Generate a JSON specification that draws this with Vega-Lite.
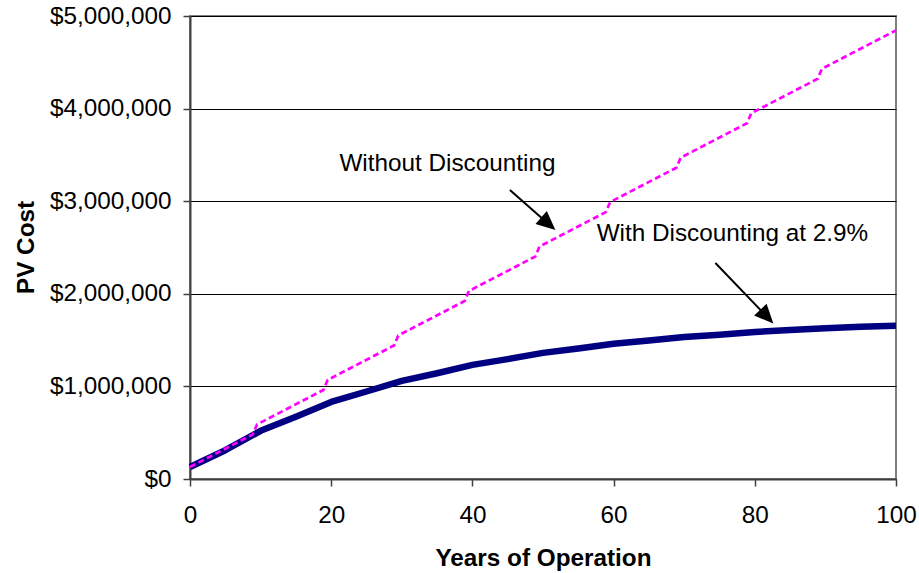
{
  "$schema": "https://vega.github.io/schema/vega-lite/v6.json",
  "width": 706,
  "height": 463,
  "autosize": {"type": "none"},
  "padding": {"left": 190, "top": 16, "right": 23, "bottom": 94},
  "background": "white",
  "config": {
    "view": {"stroke": "#808080", "strokeWidth": 2},
    "font": "Liberation Sans"
  },
  "datasets": {
    "lines": [
      {"series": "pv", "year": 0, "cost": 130000},
      {"series": "pv", "year": 5, "cost": 311000},
      {"series": "pv", "year": 10, "cost": 520000},
      {"series": "pv", "year": 15, "cost": 672000},
      {"series": "pv", "year": 20, "cost": 832000},
      {"series": "pv", "year": 25, "cost": 945000},
      {"series": "pv", "year": 30, "cost": 1060000},
      {"series": "pv", "year": 35, "cost": 1142000},
      {"series": "pv", "year": 40, "cost": 1232000},
      {"series": "pv", "year": 45, "cost": 1295000},
      {"series": "pv", "year": 50, "cost": 1362000},
      {"series": "pv", "year": 55, "cost": 1409000},
      {"series": "pv", "year": 60, "cost": 1460000},
      {"series": "pv", "year": 65, "cost": 1495000},
      {"series": "pv", "year": 70, "cost": 1534000},
      {"series": "pv", "year": 75, "cost": 1559000},
      {"series": "pv", "year": 80, "cost": 1588000},
      {"series": "pv", "year": 85, "cost": 1608000},
      {"series": "pv", "year": 90, "cost": 1629000},
      {"series": "pv", "year": 95, "cost": 1644000},
      {"series": "pv", "year": 100, "cost": 1656000},
      {"series": "nominal", "year": 0, "cost": 130000},
      {"series": "nominal", "year": 8.9, "cost": 482000},
      {"series": "nominal", "year": 9.5, "cost": 590000},
      {"series": "nominal", "year": 18.9, "cost": 962000},
      {"series": "nominal", "year": 19.5, "cost": 1070000},
      {"series": "nominal", "year": 28.9, "cost": 1442000},
      {"series": "nominal", "year": 29.5, "cost": 1550000},
      {"series": "nominal", "year": 38.9, "cost": 1922000},
      {"series": "nominal", "year": 39.5, "cost": 2030000},
      {"series": "nominal", "year": 48.9, "cost": 2402000},
      {"series": "nominal", "year": 49.5, "cost": 2510000},
      {"series": "nominal", "year": 58.9, "cost": 2882000},
      {"series": "nominal", "year": 59.5, "cost": 2990000},
      {"series": "nominal", "year": 68.9, "cost": 3362000},
      {"series": "nominal", "year": 69.5, "cost": 3470000},
      {"series": "nominal", "year": 78.9, "cost": 3842000},
      {"series": "nominal", "year": 79.5, "cost": 3950000},
      {"series": "nominal", "year": 88.9, "cost": 4322000},
      {"series": "nominal", "year": 89.5, "cost": 4430000},
      {"series": "nominal", "year": 100, "cost": 4845000}
    ],
    "labels": [
      {"year": 21.16, "cost": 3326000, "label": "Without Discounting"},
      {"year": 57.6, "cost": 2573000, "label": "With Discounting at 2.9%"}
    ],
    "arrows": [
      {"id": "a", "year": 45.31, "cost": 3121000, "year2": 50.7, "cost2": 2760000, "tipYear": 51.76, "tipCost": 2689000},
      {"id": "b", "year": 74.42, "cost": 2333000, "year2": 81.66, "cost2": 1758000, "tipYear": 82.63, "tipCost": 1679000}
    ]
  },
  "encoding": {
    "x": {
      "field": "year",
      "type": "quantitative",
      "scale": {"domain": [0, 100], "nice": false, "zero": false},
      "axis": {
        "values": [0, 20, 40, 60, 80, 100],
        "grid": false,
        "title": "Years of Operation",
        "titleFont": "Liberation Sans",
        "titleFontSize": 24.3,
        "titleFontWeight": "bold",
        "titleColor": "black",
        "titleBaseline": "alphabetic",
        "titleY": 86,
        "labelFont": "Liberation Sans",
        "labelFontSize": 24.3,
        "labelColor": "black",
        "labelPadding": 17,
        "tickSize": 7,
        "tickColor": "#404040",
        "tickWidth": 1.5,
        "domainColor": "#404040",
        "domainWidth": 2,
        "labelFlush": false,
        "labelOverlap": false
      }
    },
    "y": {
      "field": "cost",
      "type": "quantitative",
      "scale": {"domain": [0, 5000000], "nice": false},
      "axis": {
        "values": [0, 1000000, 2000000, 3000000, 4000000, 5000000],
        "format": "$,.0f",
        "grid": true,
        "gridColor": "black",
        "gridWidth": 1,
        "title": "PV Cost",
        "titleFont": "Liberation Sans",
        "titleFontSize": 24.3,
        "titleFontWeight": "bold",
        "titleColor": "black",
        "titleAngle": -90,
        "titleBaseline": "alphabetic",
        "titleAlign": "center",
        "titleX": -157,
        "titleY": 231,
        "labelFont": "Liberation Sans",
        "labelFontSize": 24.3,
        "labelColor": "black",
        "labelPadding": 12,
        "tickSize": 7,
        "tickColor": "#404040",
        "tickWidth": 1.5,
        "domainColor": "#404040",
        "domainWidth": 2,
        "labelFlush": false,
        "labelOverlap": false
      }
    }
  },
  "layer": [
    {
      "data": {"name": "lines"},
      "transform": [{"filter": "datum.series === 'pv'"}],
      "mark": {"type": "line", "color": "#000080", "strokeWidth": 6.5, "strokeCap": "butt", "strokeJoin": "round"}
    },
    {
      "data": {"name": "lines"},
      "transform": [{"filter": "datum.series === 'nominal'"}],
      "mark": {"type": "line", "color": "#FF00FF", "strokeWidth": 2.7, "strokeDash": [6, 3.5], "strokeCap": "butt"}
    },
    {
      "data": {"name": "labels"},
      "mark": {"type": "text", "align": "left", "baseline": "alphabetic", "font": "Liberation Sans", "fontSize": 24.3, "color": "black"},
      "encoding": {"text": {"field": "label"}}
    },
    {
      "data": {"name": "arrows"},
      "mark": {"type": "rule", "color": "black", "strokeWidth": 2},
      "encoding": {
        "x2": {"field": "year2"},
        "y2": {"field": "cost2"}
      }
    },
    {
      "data": {"name": "arrows"},
      "transform": [{"filter": "datum.id === 'a'"}],
      "mark": {"type": "point", "shape": "M 0 0 L -2 -0.9 L -2 0.9 Z", "filled": true, "color": "black", "opacity": 1, "size": 361, "angle": 41.3},
      "encoding": {
        "x": {"field": "tipYear", "type": "quantitative"},
        "y": {"field": "tipCost", "type": "quantitative"}
      }
    },
    {
      "data": {"name": "arrows"},
      "transform": [{"filter": "datum.id === 'b'"}],
      "mark": {"type": "point", "shape": "M 0 0 L -2 -0.9 L -2 0.9 Z", "filled": true, "color": "black", "opacity": 1, "size": 361, "angle": 46.7},
      "encoding": {
        "x": {"field": "tipYear", "type": "quantitative"},
        "y": {"field": "tipCost", "type": "quantitative"}
      }
    }
  ]
}
